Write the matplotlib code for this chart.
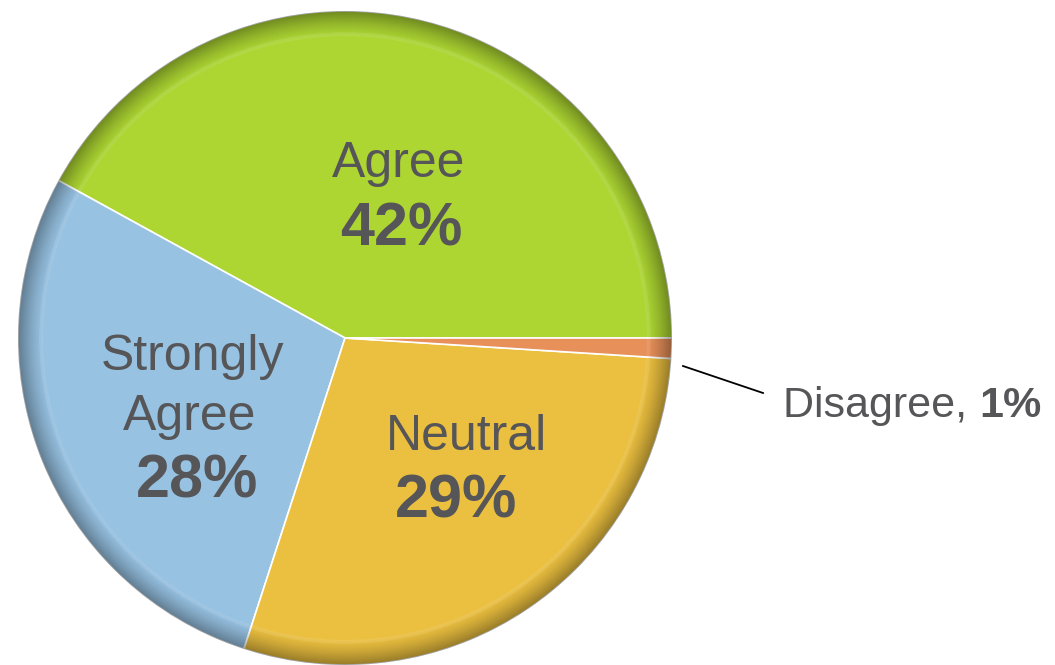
import matplotlib.pyplot as plt
from matplotlib.patches import Wedge

categories = ['Agree', 'Strongly Agree', 'Neutral', 'Disagree']
shares = [42, 28, 29, 1]
colors = ['#ADD633', '#97C2E2', '#EBC040', '#E8905A']

plt.rcParams['font.family'] = ['Liberation Sans', 'DejaVu Sans']
text_color = '#565659'

fig = plt.figure(figsize=(10.55, 6.65), dpi=100)
ax = fig.add_axes([0, 0, 1, 1])

H = 665  # labels are placed in pixel rows counted from the top
cx, cy, R = 345, 327, 327

ax.pie(shares, colors=colors, startangle=0, counterclock=True,
       center=(cx, cy), radius=R, frame=True,
       wedgeprops=dict(edgecolor='white', linewidth=1.2))
ax.set_xlim(0, 1055)
ax.set_ylim(0, H)
ax.set_aspect('equal')
ax.axis('off')

# bevel shading around the rim: dark toward the edge, slight highlight inside
n = 40
for i in range(n):
    t = i / (n - 1)
    r_out = R * (1 - 0.08 * (1 - t))
    r_in = R * (1 - 0.08 * (1 - t + 1 / n))
    ax.add_patch(Wedge((cx, cy), r_out, 0, 360, width=r_out - r_in,
                       facecolor='black', edgecolor='none', alpha=0.40 * t ** 1.5))
ax.add_patch(Wedge((cx, cy), R * 0.935, 0, 360, width=R * 0.012,
                   facecolor='white', edgecolor='none', alpha=0.10))

label_kw = dict(ha='center', va='baseline', fontsize=36, color=text_color)
pct_kw = dict(ha='center', va='baseline', fontsize=44, fontweight='bold', color=text_color)

ax.text(399, H - 177, 'Agree', **label_kw)
ax.text(401, H - 246, f'{shares[0]}%', **pct_kw)
ax.text(192, H - 370, 'Strongly', **label_kw)
ax.text(190, H - 430, 'Agree', **label_kw)
ax.text(197, H - 497, f'{shares[1]}%', **pct_kw)
ax.text(467, H - 450, 'Neutral', **label_kw)
ax.text(456, H - 518, f'{shares[2]}%', **pct_kw)

# callout for the thin slice
ax.plot([683, 763], [H - 366, H - 393], color='black', linewidth=1.3)
t1 = ax.text(783, H - 417, 'Disagree, ', ha='left', va='baseline', fontsize=31,
             color=text_color)
fig.canvas.draw()
bb = t1.get_window_extent().transformed(ax.transData.inverted())
ax.text(bb.x1, H - 417, f'{shares[3]}%', ha='left', va='baseline', fontsize=31,
        fontweight='bold', color=text_color)

fig.savefig('out.png', dpi=100)
